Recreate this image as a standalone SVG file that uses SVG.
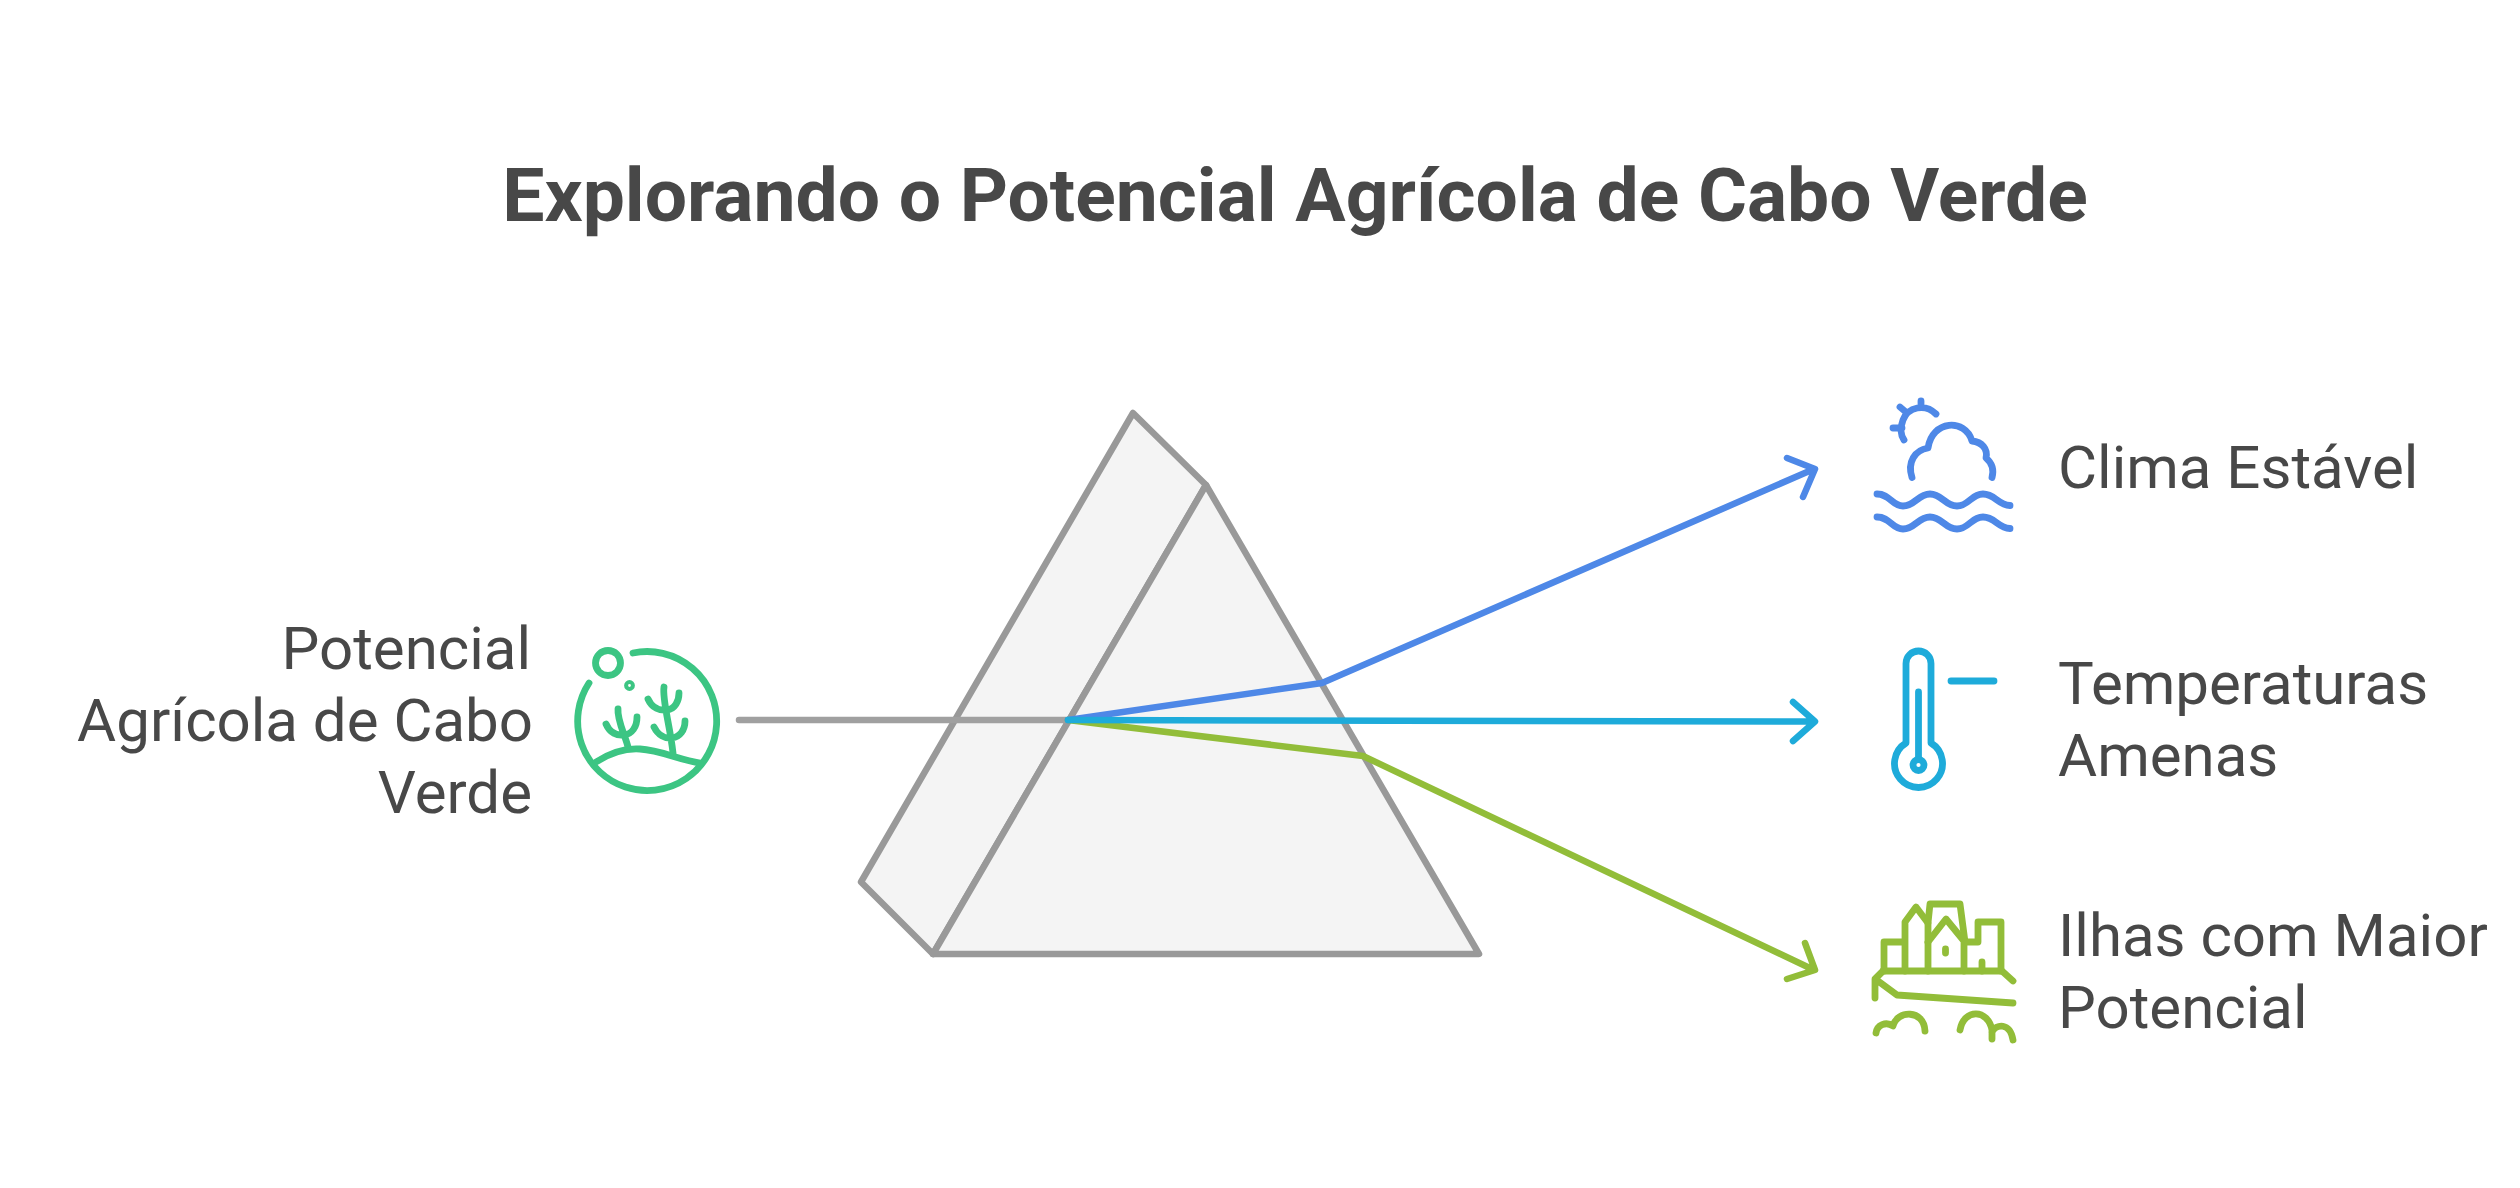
<svg xmlns="http://www.w3.org/2000/svg" width="2520" height="1188" viewBox="0 0 2520 1188">
<style>
text{font-family:Roboto,"Liberation Sans",sans-serif;fill:#484848}
.t{font-size:60px}
.i{fill:none;stroke-width:6.800;stroke-linecap:round;stroke-linejoin:round}
.r{fill:none;stroke-width:6.500;stroke-linecap:round;stroke-linejoin:round}
</style>
<rect width="2520" height="1188" fill="#fff"/>
<text id="title" x="1295" y="221" text-anchor="middle" font-size="75" font-weight="700">Explorando o Potencial Agrícola de Cabo Verde</text>
<g id="prism" fill="#f4f4f4" stroke="#999" stroke-width="6.500" stroke-linejoin="round">
<path d="M1133 413L1206 485L933 954L861 882Z"/>
<path d="M1206 485L1479 954H933Z"/>
</g>
<g id="connectors">
<path class="r" stroke="#a0a0a0" d="M739 720H1068"/>
<path class="r" stroke="#92bd39" d="M1068 720L1363 756L1814 970M1805 943L1815 970L1787 979"/>
<path class="r" stroke="#4e88e7" d="M1068 720L1322 683L1814 469M1787 458L1815 469L1803 497"/>
<path class="r" stroke="#1eabda" d="M1068 720L1814 721.500M1793 702L1815 721.500L1793 741"/>
</g>
<g id="source">
<text x="531" y="669" text-anchor="end" class="t">Potencial</text>
<text x="533" y="741" text-anchor="end" class="t">Agrícola de Cabo</text>
<text x="532" y="813" text-anchor="end" class="t">Verde</text>
<g class="i" stroke="#3cc583">
<circle cx="608" cy="663" r="12.500"/>
<circle cx="629.500" cy="685.500" r="2"/>
<path d="M633 653A69.500 69.500 0 1 1 589 683"/>
<path d="M596 762C610 753 625 748 640 749C660 750 680 760 700 763"/>
<path d="M618 709C617 720 625 735 628 747M606 724C610 733 617 736 624 735C632 734 637 727 637 717"/>
<path d="M664 687C662 700 670 725 673 753M648 699C652 708 660 711 667 710C675 709 679 701 679 693M654 727C658 735 665 739 672 738C680 737 685 730 685 721"/>
</g>
</g>
<g id="clima">
<g class="i" stroke="#4e88e7">
<path d="M1936 414C1925 403 1908 407 1903 420C1900 428 1900 434 1904 440M1921 401V407M1900 407L1907 413M1893 428H1902"/>
<path d="M1912 477.500C1907 462 1915 450 1928 448C1932 420 1965 418 1972 441C1982 442 1988 449 1986 458C1992 463 1994 470 1992 477.500"/>
<path d="M1877 494C1890 494 1892 506 1903 506C1915 506 1918 494 1930 494C1942 494 1945 506 1957 506C1969 506 1971 494 1983 494C1995 494 1998 505 2010 505.500"/>
<path d="M1877 517C1890 517 1892 529 1903 529C1915 529 1918 517 1930 517C1942 517 1945 529 1957 529C1969 529 1971 517 1983 517C1995 517 1998 528 2010 528.500"/>
</g>
<text x="2058" y="488" class="t">Clima Estável</text>
</g>
<g id="temperaturas">
<g class="i" stroke="#1eabda">
<path d="M1906 743V663.500A12.500 12.500 0 0 1 1931 663.500V743A24 24 0 1 1 1906 743Z"/>
<path d="M1918.500 692V759"/>
<circle cx="1918.500" cy="765" r="5.500"/>
<path d="M1951 681H1994"/>
</g>
<text x="2058" y="704" class="t">Temperaturas</text>
<text x="2058" y="776" class="t">Amenas</text>
</g>
<g id="ilhas">
<g class="i" stroke="#92bd39">
<path d="M1883 971H2002L2013 981M1883 971L1875 979V998M1878 981L1897 995L2013 1003"/>
<path d="M1884 971V942H1905M1905 971V922L1916 907L1928 923V971"/>
<path d="M1928 923L1930 904H1960L1965 942"/>
<path d="M1928 942L1946 919L1964 941V971M1964 942H1978V922H2001V971M1982 962V971"/>
<path d="M1945.500 949V953"/>
<path d="M1876 1033C1877 1025 1886 1021 1893 1026C1897 1010 1924 1009 1925 1031"/>
<path d="M1960 1030C1964 1008 1988 1009 1992 1030V1039M1992 1032C1996 1024 2010 1022 2013 1040"/>
</g>
<text x="2058" y="956" class="t">Ilhas com Maior</text>
<text x="2058" y="1028" class="t">Potencial</text>
</g>
</svg>
